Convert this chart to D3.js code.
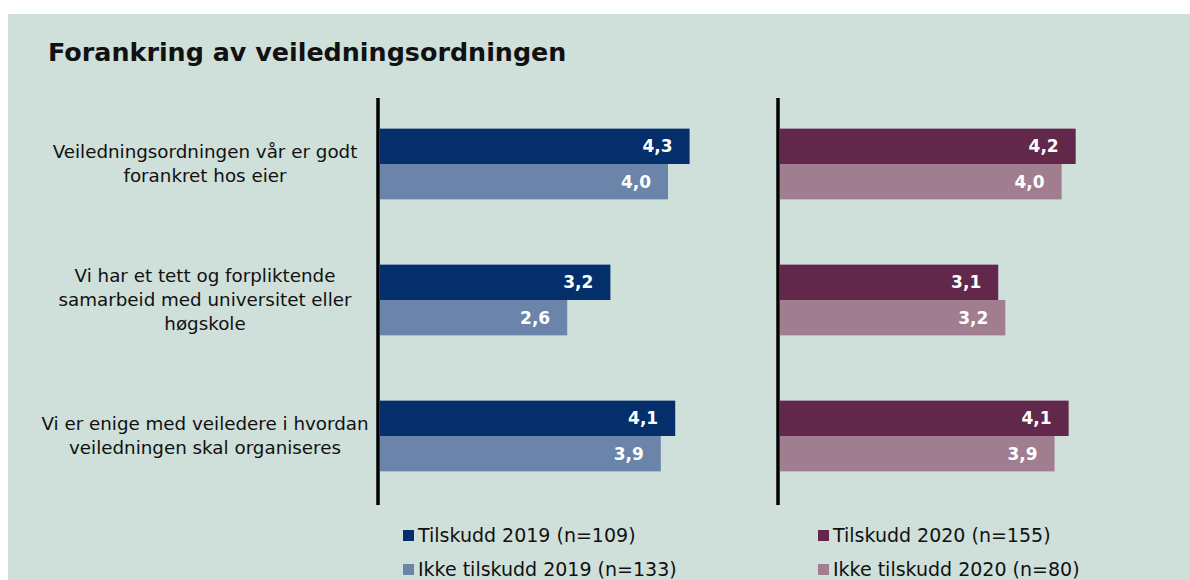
<!DOCTYPE html>
<html>
<head>
<meta charset="utf-8">
<script src="https://cdn.jsdelivr.net/npm/d3@7"></script>
<style>
  body { margin: 0; background: #fff; }
  text { font-family: "DejaVu Sans", Verdana, sans-serif; }
</style>
</head>
<body>
<svg id="chart"></svg>
<script>
const categories = [
  ["Veiledningsordningen vår er godt", "forankret hos eier"],
  ["Vi har et tett og forpliktende", "samarbeid med universitet eller", "høgskole"],
  ["Vi er enige med veiledere i hvordan", "veiledningen skal organiseres"]
];
const tilskudd2019 = [4.3, 3.2, 4.1];
const ikke2019 = [4.0, 2.6, 3.9];
const tilskudd2020 = [4.2, 3.1, 4.1];
const ikke2020 = [4.0, 3.2, 3.9];
const legend2019 = ["Tilskudd 2019 (n=109)", "Ikke tilskudd 2019 (n=133)"];
const legend2020 = ["Tilskudd 2020 (n=155)", "Ikke tilskudd 2020 (n=80)"];

const svgObj = { width: 1190, height: 580 };
const svg = d3.select("#chart")
  .attr("width", svgObj.width)
  .attr("height", svgObj.height);

svg.append("rect")
  .attr("x", 8)
  .attr("y", 14)
  .attr("width", svgObj.width - 8)
  .attr("height", svgObj.height - 14)
  .attr("fill", "#cfdfd9");

svg.append("text")
  .attr("x", 48)
  .attr("y", 61)
  .attr("font-size", 25.4)
  .attr("font-weight", "bold")
  .attr("fill", "#111")
  .text("Forankring av veiledningsordningen");

const y = d3.scaleBand()
  .domain(d3.range(categories.length))
  .range([96, 504])
  .paddingInner(0.48)
  .paddingOuter(0.24);

const sub = d3.scaleBand()
  .domain([0, 1])
  .range([0, y.bandwidth()]);

// category labels
categories.forEach((lines, i) => {
  const cy = y(i) + y.bandwidth() / 2;
  const lh = 24;
  const t = svg.append("text")
    .attr("text-anchor", "middle")
    .attr("font-size", 18.3)
    .attr("fill", "#111");
  lines.forEach((line, j) => {
    t.append("tspan")
      .attr("x", 205)
      .attr("y", cy + (j - (lines.length - 1) / 2) * lh + 6)
      .text(line);
  });
});

const fmt = v => d3.format(".1f")(v).replace(".", ",");

const drawPanel = (x0, width, series, colors, legendLabels, legendShift) => {
  const x = d3.scaleLinear().domain([0, 5]).range([x0, x0 + width]);
  series.forEach((values, s) => {
    const g = svg.append("g");
    g.selectAll("rect")
      .data(values)
      .join("rect")
      .attr("x", x(0))
      .attr("y", (d, i) => y(i) + sub(s))
      .attr("width", d => x(d) - x(0))
      .attr("height", sub.bandwidth())
      .attr("fill", colors[s]);
    g.selectAll("text")
      .data(values)
      .join("text")
      .attr("x", d => x(d) - 17)
      .attr("y", (d, i) => y(i) + sub(s) + sub.bandwidth() / 2 + 6)
      .attr("text-anchor", "end")
      .attr("font-size", 17)
      .attr("font-weight", "bold")
      .attr("fill", "#fff")
      .text(d => fmt(d));
  });
  svg.append("line")
    .attr("x1", x0 - 2)
    .attr("x2", x0 - 2)
    .attr("y1", 98)
    .attr("y2", 505)
    .attr("stroke", "#000")
    .attr("stroke-width", 3.5);

  legendLabels.forEach((label, k) => {
    const ly = 535 + k * 34;
    svg.append("rect")
      .attr("x", x0 + 23 + legendShift)
      .attr("y", ly - 5)
      .attr("width", 11)
      .attr("height", 11)
      .attr("fill", colors[k]);
    svg.append("text")
      .attr("x", x0 + 38 + legendShift)
      .attr("y", ly + 7)
      .attr("font-size", 19)
      .attr("fill", "#111")
      .text(label);
  });
};

drawPanel(380, 360, [tilskudd2019, ikke2019], ["#042f6b", "#6b84a9"], legend2019, 0);
drawPanel(780, 352, [tilskudd2020, ikke2020], ["#61284b", "#a07e90"], legend2020, 15);
</script>
</body>
</html>
